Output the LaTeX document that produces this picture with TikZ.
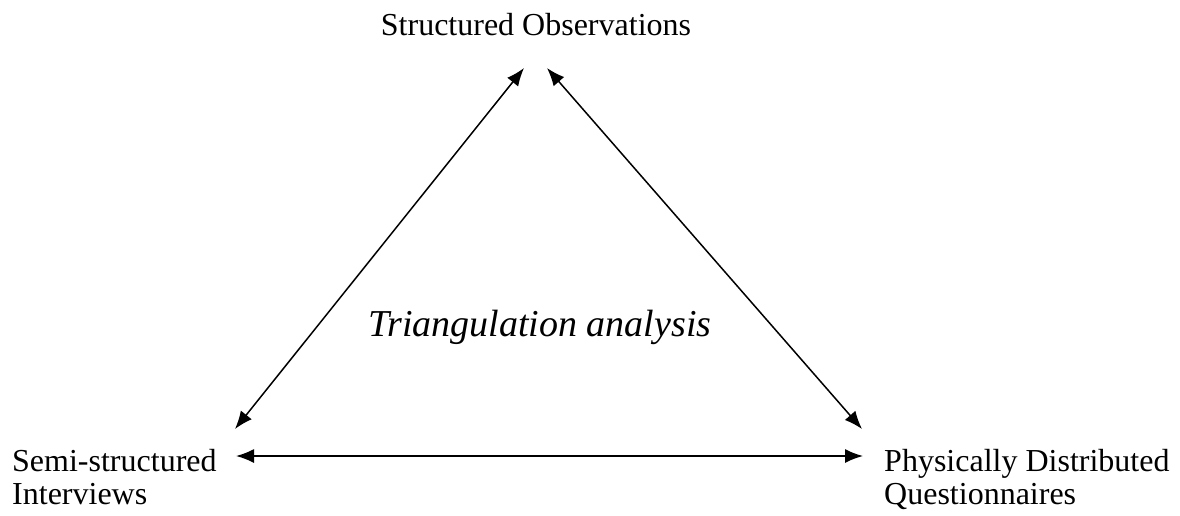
\documentclass[tikz,border=0pt]{standalone}
\usepackage{fontspec}
\setmainfont{Liberation Serif}
\usetikzlibrary{arrows.meta}
\begin{document}
\begin{tikzpicture}[x=1pt,y=-1pt,
  label/.style={inner sep=0pt,font=\fontsize{32}{40}\selectfont},
  link/.style={line width=1.5pt,{Latex[length=18pt,width=14pt]}-{Latex[length=18pt,width=14pt]}}]
\useasboundingbox (0,0) rectangle (1180,515);
% corner labels
\node[label,anchor=base] (obs) at (536,35) {Structured Observations};
\node[label,anchor=base west] (semi) at (12,471) {Semi-structured};
\node[label,anchor=base west] (semi2) at (12,504) {Interviews};
\node[label,anchor=base west] (phys) at (884,471) {Physically Distributed};
\node[label,anchor=base west] (phys2) at (884,504) {Questionnaires};
% centre label
\node[inner sep=0pt,anchor=base,font=\fontsize{38}{44}\itshape] (tri) at (540,336) {Triangulation analysis};
% arrow end points
\coordinate (topL) at (524,68);
\coordinate (topR) at (547,68);
\coordinate (leftT) at (235,429);
\coordinate (rightT) at (862,429);
\coordinate (leftB) at (236,456);
\coordinate (rightB) at (863,456);
% connectors
\draw[link] (topL) -- (leftT);
\draw[link] (topR) -- (rightT);
\draw[link] (leftB) -- (rightB);
\end{tikzpicture}
\end{document}
